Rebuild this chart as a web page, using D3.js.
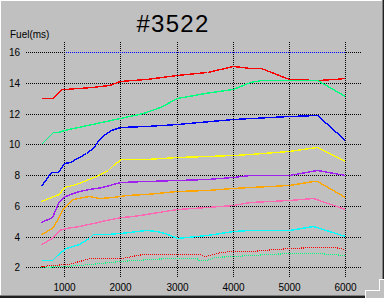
<!DOCTYPE html>
<html><head><meta charset="utf-8">
<script src="https://cdn.jsdelivr.net/npm/d3@7"></script>
<style>
html,body{margin:0;padding:0;background:#c0c0c0;}
svg{display:block;font-family:"Liberation Sans",Arial,sans-serif;}
</style></head>
<body>
<script>
const title = "#3522";
const yLabel = "Fuel(ms)";
const xTicks = [1000, 2000, 3000, 4000, 5000, 6000];
const yTicks = [2, 4, 6, 8, 10, 12, 14, 16];

const blueDotted = [[1000,16],[6000,16]];
const redTop = [[600,13.0],[780,13.0],[960,13.6],[1000,13.63],[1500,13.75],[1800,13.85],[2000,14.1],[2450,14.25],[3000,14.55],[3540,14.72],[4000,15.08],[4300,15.0],[4500,14.95],[5000,14.27],[5500,14.22],[5800,14.25],[6000,14.35]];
const greenTop = [[600,10.0],[800,10.78],[900,10.78],[1000,10.97],[1500,11.3],[2000,11.72],[2400,12.03],[2700,12.45],[3000,13.0],[3500,13.35],[4000,13.6],[4300,14.05],[4500,14.2],[5000,14.2],[5500,14.2],[6000,13.17]];
const blueLine = [[600,7.3],[770,8.2],[890,8.23],[1000,8.77],[1100,8.88],[1270,9.16],[1390,9.42],[1540,9.85],[1600,10.29],[1720,10.66],[1830,10.94],[2000,11.12],[2450,11.2],[3000,11.33],[4000,11.64],[5000,11.85],[5500,11.92],[6000,10.29]];
const yellowLine = [[600,6.34],[770,6.6],[920,6.78],[1000,7.21],[1210,7.4],[1390,7.69],[1570,7.97],[1780,8.34],[1870,8.66],[2010,9.03],[2450,9.08],[3000,9.18],[3540,9.27],[4000,9.33],[4300,9.38],[5000,9.57],[5500,9.81],[6000,8.94]];
const purpleLine = [[600,4.95],[780,5.25],[890,6.17],[980,6.6],[1100,6.8],[1270,6.97],[1450,7.1],[1680,7.25],[1870,7.43],[2000,7.55],[2450,7.6],[3000,7.69],[3540,7.73],[4000,7.87],[4300,7.99],[5000,8.03],[5500,8.31],[6000,8.01]];
const orangeLine = [[600,4.16],[780,4.55],[870,5.08],[960,5.75],[1040,6.06],[1160,6.43],[1340,6.6],[1450,6.64],[1630,6.5],[1870,6.6],[2100,6.69],[2450,6.78],[3000,6.95],[3540,7.04],[4000,7.16],[4300,7.23],[5000,7.38],[5430,7.6],[5500,7.6],[6000,6.56]];
const pinkLine = [[600,3.52],[780,3.89],[920,4.43],[1040,4.58],[1270,4.71],[1510,4.87],[1750,5.06],[2020,5.26],[2220,5.36],[2450,5.5],[3000,5.78],[3540,5.95],[4000,6.05],[4300,6.23],[5000,6.36],[5430,6.49],[6000,5.78]];
const cyanLine = [[600,2.48],[780,2.5],[870,2.8],[1030,3.24],[1270,3.52],[1450,3.89],[1510,4.17],[1750,4.17],[2000,4.22],[2450,4.42],[2630,4.39],[2800,4.22],[3000,3.89],[3540,4.1],[4000,4.39],[4300,4.43],[5000,4.46],[5430,4.69],[6000,4.04]];
const redDotted = [[600,2.11],[780,2.18],[1070,2.2],[1460,2.59],[2000,2.62],[2400,2.85],[3000,2.85],[3400,2.85],[3500,2.76],[3700,2.9],[3950,3.05],[4300,3.08],[5000,3.28],[5500,3.3],[5800,3.3],[6000,3.17]];
const greenDotted = [[600,2.05],[1000,2.09],[1270,2.15],[1640,2.3],[2000,2.41],[2530,2.52],[2900,2.6],[3350,2.59],[3400,2.48],[3540,2.48],[3660,2.67],[4000,2.75],[4300,2.8],[5000,2.91],[5500,2.96],[6000,2.78]];

const series = [
  {data: blueDotted, color: "#0000ff", dash: "1,1", offset: 1},
  {data: redTop, color: "#ff0000"},
  {data: greenTop, color: "#00ff7f"},
  {data: blueLine, color: "#0000ff"},
  {data: yellowLine, color: "#ffff00"},
  {data: purpleLine, color: "#a020f0"},
  {data: orangeLine, color: "#ffa500"},
  {data: pinkLine, color: "#ff69b4"},
  {data: cyanLine, color: "#00ffff"},
  {data: greenDotted, color: "#00ff7f", dash: "1,1"},
  {data: redDotted, color: "#ff0000", dash: "1,1"}
];

const W = 384, H = 298;
const gridLeft = 26, gridRight = 361, gridTop = 41, gridBottom = 277;
const x = d3.scaleLinear().domain([1000, 6000]).range([64, 345.3]);
const y = d3.scaleLinear().domain([2, 16]).range([267.3, 52.3]);

const svg = d3.select("body").append("svg").attr("width", W).attr("height", H);
svg.append("rect").attr("width", W).attr("height", H).attr("fill", "#c0c0c0");

// frame
function px(xx, yy, w, h, c) {
  svg.append("rect").attr("x", xx).attr("y", yy).attr("width", w).attr("height", h).attr("fill", c).attr("shape-rendering", "crispEdges");
}
px(0, 0, W, 1, "#ffffff");
px(0, 0, 1, H, "#ffffff");
px(382, 0, 1, 280, "#808080");
px(383, 0, 1, 280, "#202020");
px(0, 295, 365, 1, "#808080");
px(0, 296, 365, 2, "#202020");
px(379, 279, 5, 1, "#ffffff");
px(379, 279, 1, 12, "#ffffff");
px(365, 290, 15, 1, "#ffffff");
px(365, 290, 1, 8, "#ffffff");

const snap = v => Math.round(v) + 0.5;

// y axis grid + labels
const yAxis = d3.axisLeft(y).tickValues(yTicks).tickSize(-(gridRight - gridLeft)).tickPadding(6).tickFormat(d3.format("d"));
const gy = svg.append("g").attr("transform", `translate(${gridLeft},0)`).call(yAxis);
gy.select(".domain").remove();
gy.selectAll(".tick").attr("transform", d => `translate(0,${snap(y(d))})`);
gy.selectAll("line").attr("stroke", "#000").attr("stroke-dasharray", "1,1");
gy.selectAll("text").attr("font-size", 10).attr("fill", "#000").attr("font-family", "Liberation Sans, Arial, sans-serif");

// x axis grid + labels
const xAxis = d3.axisBottom(x).tickValues(xTicks).tickSize(-(gridBottom - gridTop)).tickPadding(7).tickFormat(d3.format("d"));
const gx = svg.append("g").attr("transform", `translate(0,${gridBottom})`).call(xAxis);
gx.select(".domain").remove();
gx.selectAll(".tick").attr("transform", d => `translate(${snap(x(d))},0)`);
gx.selectAll("line").attr("stroke", "#000").attr("stroke-dasharray", "1,1");
gx.selectAll("text").attr("font-size", 10).attr("fill", "#000").attr("font-family", "Liberation Sans, Arial, sans-serif");

// series
const line = d3.line().x(d => snap(x(d[0]))).y(d => snap(y(d[1])));
svg.append("g").selectAll("path").data(series).join("path")
  .attr("d", d => line(d.data))
  .attr("fill", "none")
  .attr("stroke", d => d.color)
  .attr("stroke-width", d => d.dash ? 1.15 : 1.4)
  .attr("stroke-dasharray", d => d.dash || null)
  .attr("stroke-dashoffset", d => d.offset || 0)
  .attr("shape-rendering", "crispEdges");

// texts
svg.append("text").attr("x", 173).attr("y", 32).attr("text-anchor", "middle")
  .attr("font-size", 24).attr("letter-spacing", "1.3px").attr("fill", "#000").text(title);
svg.append("text").attr("x", 10).attr("y", 38).attr("font-size", 10).attr("fill", "#000").text(yLabel);
</script>
</body></html>
